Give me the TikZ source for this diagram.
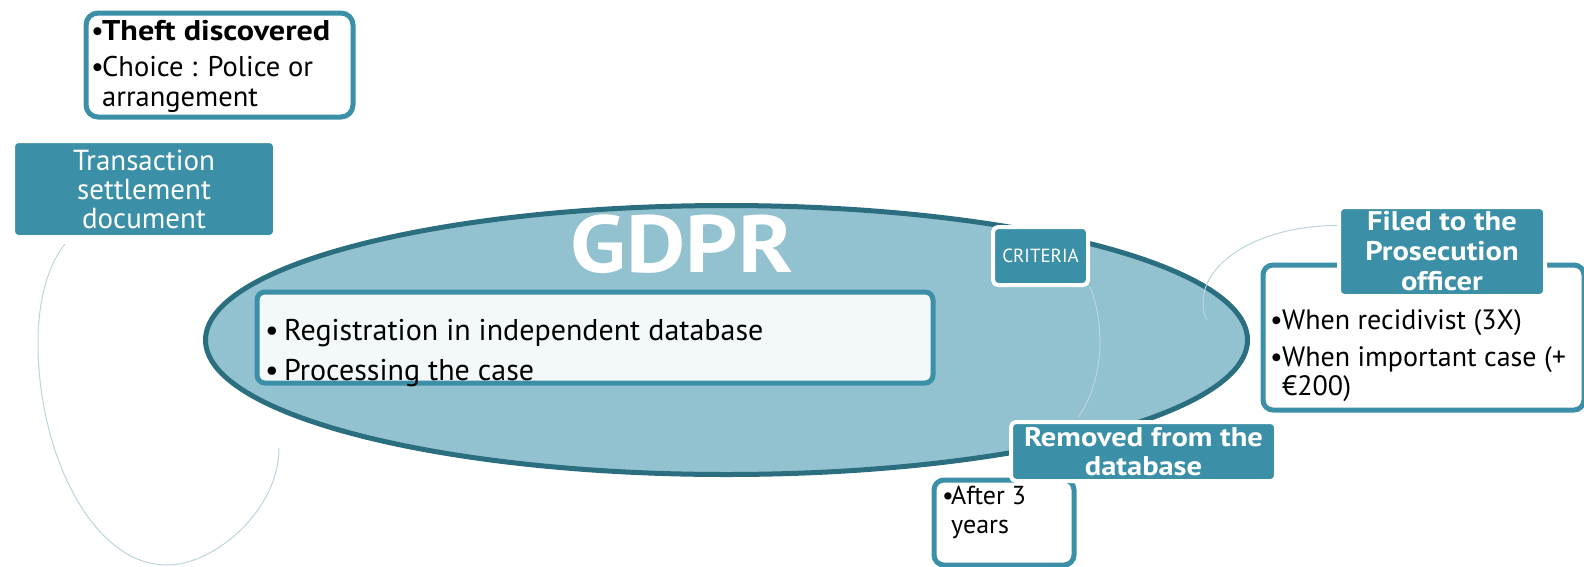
\documentclass[tikz,border=0pt]{standalone}
\usepackage{fontspec}
\setmainfont{PT Sans}[BoldFeatures={FakeStretch=1.13}]
\usetikzlibrary{shapes.geometric}
\definecolor{tealbox}{HTML}{3B8FA6}
\definecolor{ovalfill}{HTML}{92C1CF}
\definecolor{ovalline}{HTML}{2A6E80}
\definecolor{paleback}{HTML}{F3F8F9}
\definecolor{linkgray}{HTML}{BCD4DC}
\newcommand{\itembul}[1][11pt]{\makebox[#1][l]{\textbullet}}
\tikzset{
  frame/.style={draw=tealbox, line width=5pt, fill=white, rounded corners=10pt,
    anchor=north west, inner sep=0pt},
  headbox/.style={fill=tealbox, draw=white, line width=4pt, rounded corners=5pt,
    anchor=north west, text=white, align=center, inner sep=0pt,
    font=\bfseries\fontsize{27}{30}\selectfont},
  bullets/.style={anchor=north west, align=left, inner sep=0pt},
  link/.style={draw=linkgray, line width=1pt},
}
\begin{document}
\begin{tikzpicture}[x=1pt,y=1pt]
  \useasboundingbox (0,0) rectangle (1584,-566);
  % the big oval
  \node[ellipse, draw=ovalline, fill=ovalfill, line width=5pt, inner sep=0pt,
    minimum width=1042pt, minimum height=269pt] (oval) at (726.5,-340) {};
  \node[text=white, anchor=base, inner sep=0pt,
    font=\bfseries\fontsize{81}{84}\selectfont] (gdpr) at (682,-272) {GDPR};
  \node[frame, fill=paleback, rounded corners=8pt, minimum width=676pt,
    minimum height=91pt] (regbox) at (254.5,-289.5) {};
  \node[bullets, font=\fontsize{30}{40}\selectfont] (regtext) at (265,-319)
    {\itembul[19pt]Registration in independent database\\
     \itembul[19pt]Processing the case};
  \node[headbox, font=\fontsize{19}{20}\selectfont, minimum width=95pt,
    minimum height=58pt] (crit) at (991,-225) {CRITERIA};
  % left side
  \node[headbox, font=\fontsize{29}{29}\selectfont, minimum width=262pt,
    minimum height=96pt] (trans) at (11,-139) {Transaction\\settlement\\document};
  \node[frame, rounded corners=12pt, minimum width=267pt, minimum height=104pt]
    (theft) at (83.5,-10.5) {};
  \node[bullets, font=\fontsize{28.5}{30}\selectfont] (thefttext) at (91,-20)
    {\itembul\textbf{Theft discovered}\\[6pt]
     \itembul Choice : Police or\\
     \hspace*{11pt}arrangement};
  % right side
  \node[frame, minimum width=321pt, minimum height=145pt] (recid) at (1260.5,-262.5) {};
  \node[headbox, minimum width=206pt, minimum height=89pt] (filed) at (1337,-205)
    {Filed to the\\Prosecution\\officer};
  \node[bullets, font=\fontsize{28}{29}\selectfont] (recidtext) at (1270,-309)
    {\itembul[12pt]When recidivist (3X)\\[8pt]
     \itembul[12pt]When important case (+\\
     \hspace*{12pt}€200)};
  \node[frame, minimum width=140pt, minimum height=85pt] (after) at (931.5,-477.5) {};
  \node[headbox, font=\bfseries\fontsize{27}{29}\selectfont, minimum width=265pt,
    minimum height=59pt] (removed) at (1009,-420) {Removed from the\\database};
  \node[bullets, font=\fontsize{26}{29}\selectfont] (aftertext) at (942,-486)
    {\itembul[9pt]After 3\\\hspace*{9pt}years};
  % thin links
  \coordinate (ovalfoot) at (279,-448);
  \draw[link] ([xshift=-79pt,yshift=-5pt]trans.south) .. controls (48,-265) and (38,-300) .. (38,-343)
    .. controls (38,-453) and (92,-565) .. (167,-565)
    .. controls (215,-565) and (279,-510) .. (ovalfoot);
  \draw[link] (crit.south east) arc[start angle=30, end angle=-45, x radius=75, y radius=108];
  \draw[link] ([yshift=26pt]filed.west) arc[start angle=90, end angle=193, x radius=134, y radius=77];
\end{tikzpicture}
\end{document}
